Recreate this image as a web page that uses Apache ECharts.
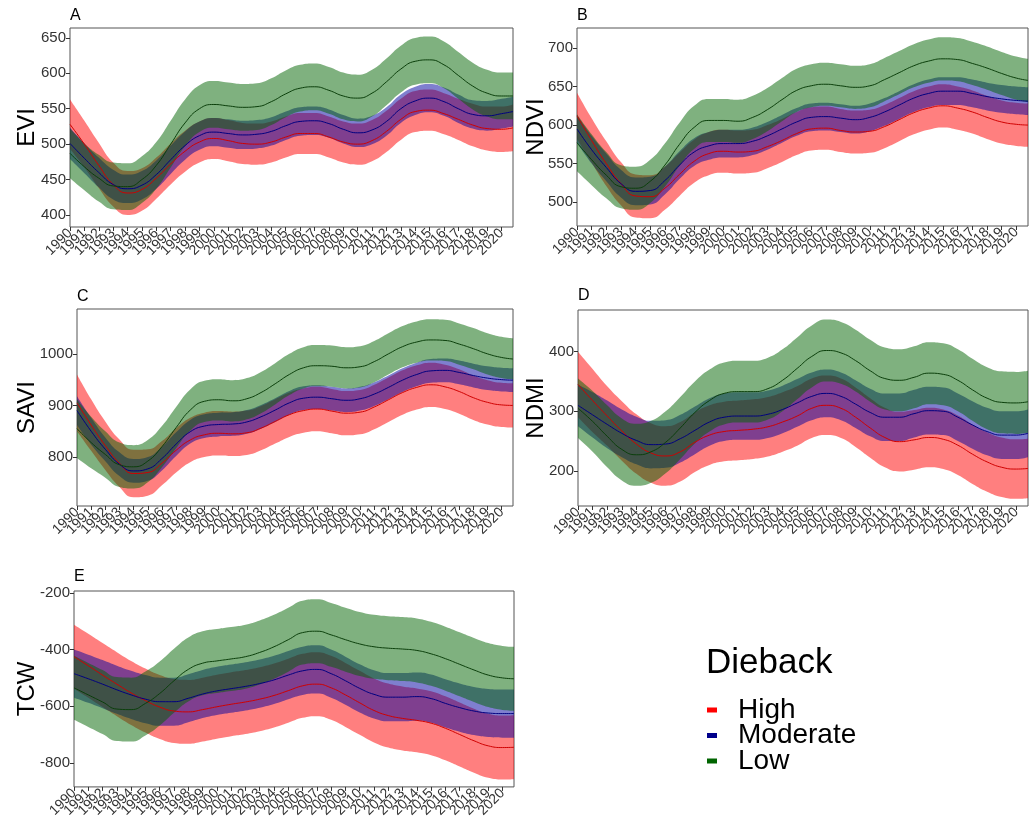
<!DOCTYPE html>
<html><head><meta charset="utf-8">
<script src="https://cdn.jsdelivr.net/npm/echarts@6/dist/echarts.min.js"></script>
<style>html,body{margin:0;padding:0;background:#fff}#c{width:1033px;height:820px}</style>
</head><body><div id="c"></div>
<script>
// ---------- DATA ----------
const years = [1990,1991,1992,1993,1994,1995,1996,1997,1998,1999,2000,2001,2002,2003,2004,2005,2006,2007,2008,2009,2010,2011,2012,2013,2014,2015,2016,2017,2018,2019,2020,2020.8];
const xTickYears = [1990,1991,1992,1993,1994,1995,1996,1997,1998,1999,2000,2001,2002,2003,2004,2005,2006,2007,2008,2009,2010,2011,2012,2013,2014,2015,2016,2017,2018,2019,2020];
const groupNames = ['High','Moderate','Low'];

// EVI (A)
const eviTicks = [400,450,500,550,600,650];
const eviHighMean = [528,500,470,443,431,436,452,472,490,503,508,505,501,500,503,510,515,515,510,503,500,505,518,535,546,548,543,535,527,522,521,523];
const eviHighLo   = [493,467,438,412,400,406,423,443,461,474,479,476,472,471,474,481,486,486,481,474,471,476,489,506,517,519,514,506,497,491,489,490];
const eviHighHi   = [563,533,502,474,462,466,481,501,519,532,537,534,530,529,532,539,544,544,539,532,529,534,547,564,575,577,572,564,557,553,553,556];
const eviModMean  = [501,480,460,443,437,442,457,478,498,512,517,515,513,514,518,526,532,533,529,521,516,520,532,550,561,565,560,550,542,540,543,546];
const eviModLo    = [479,459,439,422,417,422,437,458,478,492,497,495,493,494,498,506,512,513,509,501,496,500,512,530,541,545,540,530,522,519,522,525];
const eviModHi    = [523,501,481,464,457,462,477,498,518,532,537,535,533,534,538,546,552,553,549,541,536,540,552,570,581,585,580,570,562,561,564,567];
const eviLowMean  = [487,468,452,441,440,450,470,500,530,550,556,554,552,553,560,571,579,581,576,568,565,572,588,606,617,619,612,597,582,572,568,568];
const eviLowLo    = [452,435,419,408,407,417,437,467,497,517,523,521,519,520,527,538,546,548,543,535,532,539,555,573,584,586,579,564,549,539,535,535];
const eviLowHi    = [522,501,485,474,473,483,503,533,563,583,589,587,585,586,593,604,612,614,609,601,598,605,621,639,650,652,645,630,615,605,601,601];

// NDVI (B)
const ndviTicks = [500,550,600,650,700];
const ndviHighMean = [612,580,550,524,508,507,518,536,553,563,566,565,566,572,580,589,595,596,593,591,592,598,607,616,622,625,622,617,610,604,601,600];
const ndviHighLo   = [582,551,521,496,480,479,490,508,525,535,538,537,538,544,552,561,567,568,565,563,564,570,579,588,594,597,594,589,582,576,573,572];
const ndviHighHi   = [642,609,579,552,536,535,546,564,581,591,594,593,594,600,608,617,623,624,621,619,620,626,635,644,650,653,650,645,638,632,629,628];
const ndviModMean  = [595,568,545,524,514,515,528,548,565,573,576,576,579,586,595,604,610,611,609,607,610,617,626,635,641,644,644,641,637,634,632,631];
const ndviModLo    = [577,550,527,506,496,497,510,530,547,555,558,558,561,568,577,586,592,593,591,589,592,599,608,617,623,626,626,623,619,616,614,613];
const ndviModHi    = [613,586,563,542,532,533,546,566,583,591,594,594,597,604,613,622,628,629,627,625,628,635,644,653,659,662,662,659,655,652,650,649];
const ndviLowMean  = [577,555,535,520,518,527,548,575,597,606,606,605,610,620,633,645,651,653,651,649,651,659,668,677,683,686,685,680,674,667,661,658];
const ndviLowLo    = [540,522,505,492,490,499,520,547,569,578,578,577,582,592,605,617,623,625,623,621,623,631,640,649,655,658,657,652,646,639,633,630];
const ndviLowHi    = [614,588,565,548,546,555,576,603,625,634,634,633,638,648,661,673,679,681,679,677,679,687,696,705,711,714,713,708,702,695,689,686];

// SAVI (C)
const saviTicks = [800,900,1000];
const saviHighMean = [905,862,822,788,768,770,788,813,833,843,846,845,847,856,869,882,890,893,889,885,887,897,911,925,935,940,936,927,915,906,901,900];
const saviHighLo   = [850,812,775,742,722,725,745,770,790,800,803,802,804,813,826,839,847,850,846,842,844,854,868,882,892,897,893,884,872,863,858,857];
const saviHighHi   = [960,912,869,834,814,815,831,856,876,886,889,888,890,899,912,925,933,936,932,928,930,940,954,968,978,983,979,970,958,949,944,943];
const saviModMean  = [890,850,815,786,773,777,797,825,849,860,863,864,868,878,891,905,914,916,913,910,913,922,935,949,960,967,968,964,958,953,950,949];
const saviModLo    = [862,824,792,763,750,754,774,802,826,837,840,841,845,855,868,882,891,893,890,887,890,899,912,926,937,944,945,941,935,930,927,926];
const saviModHi    = [918,876,838,809,796,800,820,848,872,883,886,887,891,901,914,928,937,939,936,933,936,945,958,972,983,990,991,987,981,976,973,972];
const saviLowMean  = [855,828,805,785,781,792,820,857,891,908,911,909,913,925,942,960,973,977,976,973,975,985,1000,1014,1023,1027,1026,1019,1010,1000,993,990];
const saviLowLo    = [798,778,760,742,739,751,780,817,851,868,871,869,873,885,902,920,933,937,936,933,935,945,960,974,983,987,986,979,970,960,953,950];
const saviLowHi    = [912,878,850,828,823,833,860,897,931,948,951,949,953,965,982,1000,1013,1017,1016,1013,1015,1025,1040,1054,1063,1067,1066,1059,1050,1040,1033,1030];

// NDMI (D)
const ndmiTicks = [200,300,400];
const ndmiHighMean = [345,318,292,267,245,230,225,232,248,260,266,268,270,274,282,292,305,310,305,290,272,256,249,252,256,253,243,228,215,206,203,204];
const ndmiHighLo   = [290,265,242,217,195,180,175,182,198,210,216,218,220,224,232,242,255,260,255,240,222,206,199,202,206,203,193,178,165,156,153,154];
const ndmiHighHi   = [400,371,342,317,295,280,275,282,298,310,316,318,320,324,332,342,355,360,355,340,322,306,299,302,306,303,293,278,265,256,253,254];
const ndmiModMean  = [310,294,278,263,251,244,245,254,268,282,290,292,292,295,303,314,325,330,325,312,298,290,290,296,301,300,290,277,266,260,260,263];
const ndmiModLo    = [275,256,238,223,211,204,205,214,228,242,250,252,252,255,263,274,285,290,285,272,258,250,250,256,261,260,250,237,226,220,220,223];
const ndmiModHi    = [345,332,318,303,291,284,285,294,308,322,330,332,332,335,343,354,365,370,365,352,338,330,330,336,341,340,330,317,306,300,300,303];
const ndmiLowMean  = [305,283,258,236,227,232,248,272,298,318,330,333,333,338,352,372,392,402,398,385,368,355,352,357,364,362,352,336,322,315,314,316];
const ndmiLowLo    = [255,232,206,184,175,180,196,220,246,266,278,281,281,286,300,320,340,350,346,333,316,303,300,305,312,310,300,284,270,263,262,264];
const ndmiLowHi    = [355,334,310,288,279,284,300,324,350,370,382,385,385,390,404,424,444,454,450,437,420,407,404,409,416,414,404,388,374,367,366,368];

// TCW (E)
const tcwTicks = [-800,-600,-400,-200];
const tcwHighMean = [-425,-457,-490,-522,-553,-580,-603,-617,-620,-612,-602,-593,-585,-575,-562,-545,-528,-522,-535,-560,-588,-615,-633,-643,-650,-660,-678,-700,-722,-740,-746,-745];
const tcwHighLo   = [-538,-570,-603,-635,-666,-693,-716,-730,-733,-725,-715,-706,-698,-688,-675,-658,-641,-635,-648,-673,-701,-728,-746,-756,-763,-773,-791,-813,-835,-853,-859,-858];
const tcwHighHi   = [-312,-344,-377,-409,-440,-467,-490,-504,-507,-499,-489,-480,-472,-462,-449,-432,-415,-409,-422,-447,-475,-502,-520,-530,-537,-547,-565,-587,-609,-627,-633,-632];
const tcwModMean  = [-485,-503,-522,-542,-560,-575,-584,-584,-572,-557,-546,-538,-530,-520,-507,-490,-475,-470,-485,-510,-537,-558,-568,-568,-566,-573,-590,-605,-617,-624,-626,-626];
const tcwModLo    = [-570,-588,-607,-627,-645,-660,-669,-669,-657,-642,-631,-623,-615,-605,-592,-575,-560,-555,-570,-595,-622,-643,-653,-653,-651,-658,-675,-690,-702,-709,-711,-711];
const tcwModHi    = [-400,-418,-437,-457,-475,-490,-499,-499,-487,-472,-461,-453,-445,-435,-422,-405,-390,-385,-400,-425,-452,-473,-483,-483,-481,-488,-505,-520,-532,-539,-541,-541];
const tcwLowMean  = [-535,-560,-585,-610,-612,-590,-555,-510,-470,-448,-440,-433,-425,-410,-390,-365,-340,-335,-348,-365,-380,-390,-395,-398,-403,-415,-432,-452,-472,-490,-500,-503];
const tcwLowLo    = [-648,-673,-698,-723,-725,-703,-668,-623,-583,-561,-553,-546,-538,-523,-503,-478,-453,-448,-461,-478,-493,-503,-508,-511,-516,-528,-545,-565,-585,-603,-613,-616];
const tcwLowHi    = [-422,-447,-472,-497,-499,-477,-442,-397,-357,-335,-327,-320,-312,-297,-277,-252,-227,-222,-235,-252,-267,-277,-282,-285,-290,-302,-319,-339,-359,-377,-387,-390];

// ---------- CHART ----------
const FONT = '"Liberation Sans", Arial, Helvetica, sans-serif';

const panels = [
  { name: 'EVI',  letter: 'A', grid: { left: 70,  top: 28,  width: 443, height: 199 }, min: 383,  max: 664,  ticks: eviTicks,  nameGap: 31, lt: 8,
    groups: [[eviHighLo, eviHighHi, eviHighMean], [eviModLo, eviModHi, eviModMean], [eviLowLo, eviLowHi, eviLowMean]] },
  { name: 'NDVI', letter: 'B', grid: { left: 577, top: 28,  width: 451, height: 198 }, min: 469,  max: 726,  ticks: ndviTicks, nameGap: 29, lt: 8,
    groups: [[ndviHighLo, ndviHighHi, ndviHighMean], [ndviModLo, ndviModHi, ndviModMean], [ndviLowLo, ndviLowHi, ndviLowMean]] },
  { name: 'SAVI', letter: 'C', grid: { left: 77,  top: 309, width: 436, height: 197 }, min: 705,  max: 1087, ticks: saviTicks, nameGap: 38, lt: 289,
    groups: [[saviHighLo, saviHighHi, saviHighMean], [saviModLo, saviModHi, saviModMean], [saviLowLo, saviLowHi, saviLowMean]] },
  { name: 'NDMI', letter: 'D', grid: { left: 578, top: 310, width: 450, height: 196 }, min: 141,  max: 470,  ticks: ndmiTicks, nameGap: 30, lt: 288,
    groups: [[ndmiHighLo, ndmiHighHi, ndmiHighMean], [ndmiModLo, ndmiModHi, ndmiModMean], [ndmiLowLo, ndmiLowHi, ndmiLowMean]] },
  { name: 'TCW',  letter: 'E', grid: { left: 74,  top: 591, width: 440, height: 196 }, min: -885, max: -193, ticks: tcwTicks,  nameGap: 35, lt: 569,
    groups: [[tcwHighLo, tcwHighHi, tcwHighMean], [tcwModLo, tcwModHi, tcwModMean], [tcwLowLo, tcwLowHi, tcwLowMean]] }
];

const fills = ['#ff0000', '#0000a0', '#006400'];
const lineColors = ['#d00000', '#000080', '#0b3f0b'];
const legendColors = ['#ff0000', '#00008b', '#006400'];

// labels are split over two overlaid bottom axes so that ECharts keeps every (overlapping) year label
const evenYears = xTickYears.filter(y => y % 2 === 0);
const oddYears = xTickYears.filter(y => y % 2 === 1);

const grids = [], xAxes = [], yAxes = [], series = [], titles = [];
panels.forEach((p, i) => {
  grids.push(Object.assign({ show: true, borderColor: '#555', borderWidth: 1, backgroundColor: 'transparent', containLabel: false }, p.grid));
  const labelBase = { interval: 0, rotate: 45, fontSize: 14, color: '#333', margin: 4, fontFamily: FONT,
    showMinLabel: true, showMaxLabel: true, hideOverlap: false, formatter: v => String(Math.round(v)) };
  xAxes.push({
    type: 'value', gridIndex: i, min: 1990, max: 2020.8, position: 'bottom', offset: 0,
    axisLine: { show: false }, splitLine: { show: false },
    axisTick: { show: true, customValues: xTickYears, length: 4, lineStyle: { color: '#333' } },
    axisLabel: Object.assign({ customValues: evenYears }, labelBase)
  });
  xAxes.push({
    type: 'value', gridIndex: i, min: 1990, max: 2020.8, position: 'bottom', offset: 0,
    axisLine: { show: false }, splitLine: { show: false }, axisTick: { show: false },
    axisLabel: Object.assign({ customValues: oddYears }, labelBase)
  });
  yAxes.push({
    type: 'value', gridIndex: i, min: p.min, max: p.max,
    name: p.name, nameLocation: 'middle', nameGap: p.nameGap, nameMoveOverlap: false,
    nameTextStyle: { fontSize: 24, color: '#000', fontFamily: FONT },
    axisLine: { show: false }, splitLine: { show: false },
    axisTick: { show: true, customValues: p.ticks, length: 4, lineStyle: { color: '#333' } },
    axisLabel: { customValues: p.ticks, fontSize: 15, color: '#333', margin: 4, fontFamily: FONT,
      showMinLabel: true, showMaxLabel: true, formatter: v => String(v) }
  });
  titles.push({ text: p.letter, left: p.grid.left, top: p.lt, padding: 0,
    textStyle: { fontSize: 16, fontWeight: 'normal', color: '#000', fontFamily: FONT } });
  const xi = 2 * i;
  // band = lower boundary + stacked (upper - lower); value column first so the value is the stacked dimension
  p.groups.forEach((g, gi) => {
    const [lo, hi] = g;
    const stack = 'p' + i + 'g' + gi;
    series.push({
      type: 'line', xAxisIndex: xi, yAxisIndex: i, stack, stackStrategy: 'all', smooth: true,
      symbol: 'none', silent: true, lineStyle: { opacity: 0, width: 0 },
      encode: { x: 1, y: 0 },
      data: years.map((y, k) => [lo[k], y])
    });
    series.push({
      type: 'line', xAxisIndex: xi, yAxisIndex: i, stack, stackStrategy: 'all', smooth: true,
      symbol: 'none', silent: true, lineStyle: { opacity: 0, width: 0 },
      areaStyle: { color: fills[gi], opacity: 0.5 },
      encode: { x: 1, y: 0 },
      data: years.map((y, k) => [hi[k] - lo[k], y])
    });
  });
  p.groups.forEach((g, gi) => {
    const mean = g[2];
    series.push({
      name: groupNames[gi], type: 'line', xAxisIndex: xi, yAxisIndex: i, smooth: true,
      symbol: 'none', silent: true, z: 3,
      lineStyle: { color: lineColors[gi], width: 1 }, itemStyle: { color: lineColors[gi] },
      data: years.map((y, k) => [y, mean[k]])
    });
  });
});

titles.push({ text: 'Dieback', left: 706, top: 646, padding: 0,
  textStyle: { fontSize: 35, fontWeight: 'normal', color: '#000', fontFamily: FONT } });

const chart = echarts.init(document.getElementById('c'), null, { renderer: 'canvas' });
chart.setOption({
  animation: false,
  backgroundColor: '#fff',
  textStyle: { fontFamily: FONT },
  title: titles,
  grid: grids, xAxis: xAxes, yAxis: yAxes, series,
  legend: {
    orient: 'vertical', left: 707, top: 696, padding: 0, itemGap: -2.5,
    icon: 'rect', itemWidth: 10, itemHeight: 5, selectedMode: false,
    textStyle: { fontSize: 28, color: '#000', padding: [0, 0, 0, 16], fontFamily: FONT },
    data: groupNames.map((n, i) => ({ name: n, itemStyle: { color: legendColors[i] } }))
  }
});
</script></body></html>
